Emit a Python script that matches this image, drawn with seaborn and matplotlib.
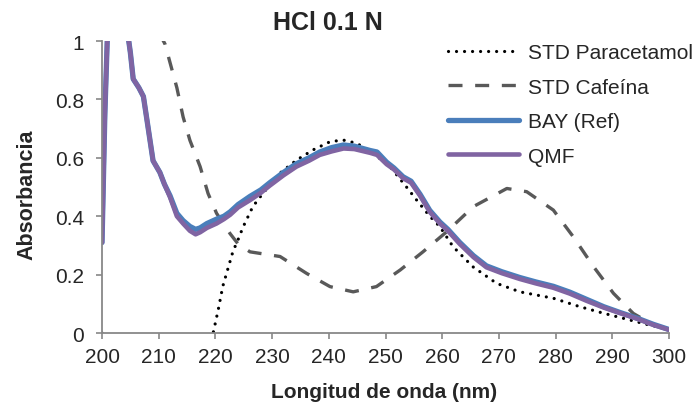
import numpy as np
import pandas as pd
import matplotlib
matplotlib.use("Agg")
import matplotlib.pyplot as plt
import seaborn as sns

# wavelengths (nm) and absorbance
wl_par = [200, 200.6, 219, 219.6, 220.5, 221.3, 222.2, 223.1, 224, 224.9, 226.6, 228.4,
          231.4, 234.3, 237.2, 240.2, 242.5, 244.9, 247.8, 250.8, 253.7, 255.5, 257.8,
          259.6, 261.9, 265.4, 269.6, 273.7, 279.6, 284.3, 288.4, 292, 296, 300]
abs_par = [0.0, -0.3, -0.1, 0.0, 0.08, 0.16, 0.22, 0.28, 0.32, 0.364, 0.433, 0.479,
           0.548, 0.592, 0.627, 0.655, 0.661, 0.65, 0.616, 0.57, 0.50, 0.455, 0.40,
           0.364, 0.296, 0.227, 0.17, 0.141, 0.119, 0.09, 0.068, 0.05, 0.03, 0.012]

wl_caf = [210, 211.1, 213.2, 214.3, 215.5, 217.3, 218.7, 220.2, 222.6, 224, 226.1, 231.4,
          236.1, 240.2, 244.3, 248.4, 252.6, 256.6, 260.8, 265.5, 271.4, 274.9, 279.6,
          283.1, 286.7, 290.2, 293.7, 297, 300]
abs_caf = [1.03, 0.99, 0.84, 0.74, 0.66, 0.57, 0.478, 0.41, 0.34, 0.305, 0.278, 0.262,
           0.204, 0.159, 0.141, 0.159, 0.216, 0.278, 0.347, 0.433, 0.495, 0.484, 0.421,
           0.33, 0.227, 0.136, 0.067, 0.03, 0.01]

wl_mix = [200, 200.5, 201, 202, 203, 204, 204.5, 205, 205.5, 206.5, 207.3, 208, 209,
          210.2, 211, 212, 213.2, 214.3, 215.5, 216.5, 217.3, 218.5, 220.2, 221.5, 222.6,
          224, 226.1, 228, 229.6, 232, 234.3, 236.5, 238.4, 240.5, 242.6, 244.5, 247.3,
          248.5, 250.2, 251.5, 253.1, 254.5, 256.1, 257.8, 259.6, 261, 263.1, 265.5,
          267.8, 270.5, 273.7, 276.5, 279.6, 282.5, 285.5, 288.5, 291.4, 294.5, 297.2, 300]
abs_bay = [0.31, 0.75, 1.05, 1.25, 1.25, 1.1, 1.03, 0.96, 0.87, 0.84, 0.81, 0.72, 0.59,
           0.55, 0.51, 0.47, 0.41, 0.385, 0.365, 0.355, 0.36, 0.375, 0.39, 0.40, 0.415,
           0.44, 0.468, 0.49, 0.515, 0.55, 0.58, 0.60, 0.62, 0.635, 0.644, 0.64, 0.625,
           0.62, 0.585, 0.565, 0.535, 0.52, 0.475, 0.42, 0.38, 0.355, 0.31, 0.265,
           0.23, 0.21, 0.19, 0.175, 0.16, 0.14, 0.115, 0.09, 0.07, 0.05, 0.03, 0.012]
abs_qmf = [0.31, 0.75, 1.05, 1.25, 1.25, 1.1, 1.03, 0.96, 0.87, 0.84, 0.81, 0.72, 0.59,
           0.55, 0.51, 0.465, 0.40, 0.375, 0.35, 0.338, 0.345, 0.36, 0.375, 0.39, 0.405,
           0.43, 0.455, 0.48, 0.505, 0.54, 0.57, 0.59, 0.61, 0.622, 0.632, 0.63, 0.617,
           0.61, 0.578, 0.56, 0.53, 0.515, 0.47, 0.415, 0.375, 0.35, 0.305, 0.26,
           0.225, 0.205, 0.185, 0.17, 0.155, 0.135, 0.11, 0.087, 0.068, 0.048, 0.028, 0.011]

sns.set_theme(style="white")
plt.rcParams["font.family"] = ["Liberation Sans", "DejaVu Sans"]

fig = plt.figure(figsize=(6.95, 4.06), dpi=100)
ax = fig.add_axes([0.1468, 0.1773, 0.8158, 0.7192])

sns.lineplot(x=wl_par, y=abs_par, ax=ax, color="black", linewidth=2.3,
             linestyle=(0, (0.01, 2.5)), dash_capstyle="round", label="STD Paracetamol")
sns.lineplot(x=wl_caf, y=abs_caf, ax=ax, color="#595959", linewidth=2.4,
             linestyle=(0, (4.2, 3.8)), label="STD Cafeína")
sns.lineplot(x=wl_mix, y=abs_bay, ax=ax, color="#4A7EBB", linewidth=3.8,
             solid_capstyle="round", label="BAY (Ref)")
sns.lineplot(x=wl_mix, y=abs_qmf, ax=ax, color="#8064A2", linewidth=3.3,
             solid_capstyle="round", label="QMF")

ax.set_xlim(200, 300)
ax.set_ylim(0, 1)
ax.set_xticks(np.arange(200, 301, 10))
ax.set_yticks([0, 0.2, 0.4, 0.6, 0.8, 1])
ax.set_yticklabels(["0", "0.2", "0.4", "0.6", "0.8", "1"])
ax.tick_params(axis="both", direction="out", length=4, width=1.2, color="#888888",
               labelsize=15, bottom=True, left=True)
ax.tick_params(axis="x", pad=6)
ax.tick_params(axis="y", pad=9)

for side in ["top", "right"]:
    ax.spines[side].set_visible(False)
for side in ["left", "bottom"]:
    ax.spines[side].set_color("#888888")
    ax.spines[side].set_linewidth(1.3)

fig.text(0.472, 0.926, "HCl 0.1 N", fontsize=18, fontweight="bold",
         ha="center", va="baseline")
ax.set_xlabel("Longitud de onda (nm)", fontsize=15, fontweight="bold")
ax.set_ylabel("Absorbancia", fontsize=15.5, fontweight="bold")
ax.xaxis.set_label_coords(0.497, -0.168)
ax.yaxis.set_label_coords(-0.114, 0.476)

leg = ax.legend(loc="upper left", bbox_to_anchor=(0.645, 0.891),
                bbox_transform=fig.transFigure, frameon=False, fontsize=15,
                handlelength=3.4, labelspacing=0.74, handletextpad=0.43,
                borderpad=0, borderaxespad=0)

fig.savefig("out.png", dpi=100)
